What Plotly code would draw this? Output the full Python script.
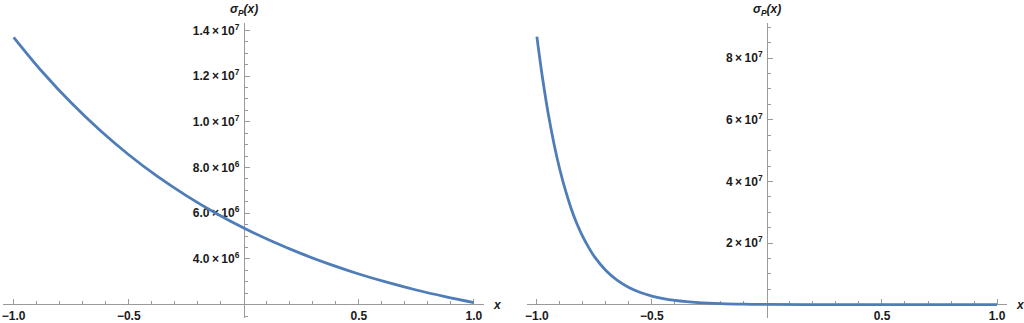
import numpy as np
import plotly.graph_objects as go

# ---- data ----
x_left = [-1.0, -0.875, -0.75, -0.625, -0.5, -0.375, -0.25, -0.125, 0.0,
          0.125, 0.25, 0.375, 0.5, 0.625, 0.75, 0.875, 1.0]
sigma_left = [1.37e7, 1.218e7, 1.083e7, 9.63e6, 8.56e6, 7.61e6, 6.77e6, 6.02e6, 5.35e6,
              4.76e6, 4.23e6, 3.76e6, 3.34e6, 2.97e6, 2.64e6, 2.35e6, 2.09e6]

x_right = [-1.0, -0.975, -0.95, -0.925, -0.9, -0.875, -0.85, -0.825, -0.8, -0.775, -0.75,
           -0.7, -0.65, -0.6, -0.55, -0.5, -0.45, -0.4, -0.35, -0.3, -0.2, -0.1, 0.0,
           0.25, 0.5, 0.75, 1.0]
sigma_right = [8.7e7, 7.33e7, 6.17e7, 5.2e7, 4.38e7, 3.69e7, 3.1e7, 2.61e7, 2.2e7, 1.86e7, 1.56e7,
               1.11e7, 7.86e6, 5.57e6, 3.95e6, 2.8e6, 1.99e6, 1.41e6, 1.0e6, 7.1e5, 3.6e5, 1.8e5, 9.0e4,
               1.6e4, 2.9e3, 5.2e2, 93]

x_tick_vals = [-1.0, -0.5, 0.5, 1.0]
x_tick_text = ["\u22121.0", "\u22120.5", "0.5", "1.0"]

left_tick_vals = [4e6, 6e6, 8e6, 1.0e7, 1.2e7, 1.4e7]
left_tick_text = ["4.0", "6.0", "8.0", "1.0", "1.2", "1.4"]
left_tick_exp = [6, 6, 6, 7, 7, 7]

right_tick_vals = [2e7, 4e7, 6e7, 8e7]
right_tick_text = ["2", "4", "6", "8"]
right_tick_exp = [7, 7, 7, 7]

# ---- styling ----
W, H = 1024, 323
LINE = "#4F7DB8"
AX = "#9a9a9a"
TXT = "#1a1a1a"
FONT = "Liberation Sans"


def sci(m, e):
    return f"<b>{m}\u2009\u00d7\u200910<sup>{e}</sup></b>"


def px2x(p):
    return p / W


def py2y(p):
    return 1 - p / H


fig = go.Figure()
fig.add_trace(go.Scatter(x=x_left, y=sigma_left, mode="lines", line=dict(color=LINE, width=2.8, shape="spline"),
                         xaxis="x", yaxis="y", showlegend=False, hoverinfo="skip"))
fig.add_trace(go.Scatter(x=x_right, y=sigma_right, mode="lines", line=dict(color=LINE, width=2.8, shape="spline"),
                         xaxis="x2", yaxis="y2", showlegend=False, hoverinfo="skip"))

ppu = 230.3
xr = 1.045
left_c, right_c = 243.0, 766.7
x_axis_py = 305.3
y_top_py, y_bot_py = 21.7, 319.0

minor_x = [round(v, 2) for v in np.arange(-1.0, 1.0001, 0.1) if abs(round(v, 2) * 2 - round(round(v, 2) * 2)) > 1e-6]

common_x = dict(showgrid=False, zeroline=False, showline=True, linecolor=AX, linewidth=1,
                ticks="inside", ticklen=5, tickcolor=AX, tickwidth=1, layer="below traces",
                tickmode="array", tickvals=x_tick_vals, ticktext=["<b>" + t + "</b>" for t in x_tick_text],
                tickfont=dict(family=FONT, size=12, color=TXT),
                minor=dict(ticks="inside", ticklen=3, tickcolor=AX, tickwidth=1,
                           tickmode="array", tickvals=minor_x, showgrid=False),
                range=[-xr, xr], anchor="free", position=py2y(x_axis_py), ticklabelstandoff=0)

fig.update_layout(
    width=W, height=H, margin=dict(l=0, r=0, t=0, b=0),
    paper_bgcolor="white", plot_bgcolor="white",
    xaxis=dict(common_x, domain=[px2x(left_c - xr * ppu), px2x(left_c + xr * ppu)]),
    xaxis2=dict(common_x, domain=[px2x(right_c - xr * ppu), px2x(right_c + xr * ppu)]),
)

l_per_px = 1e7 / (259.33 - 28.67)
l_lo = 4e6 - (y_bot_py - 259.33) * l_per_px
l_hi = 4e6 + (259.33 - y_top_py) * l_per_px
r_per_px = 6e7 / (243.33 - 56.67)
r_zero_py = 243.33 + 2e7 / r_per_px
r_lo = -(y_bot_py - r_zero_py) * r_per_px
r_hi = (r_zero_py - y_top_py) * r_per_px

common_y = dict(showgrid=False, zeroline=False, showline=True, linecolor=AX, linewidth=1,
                ticks="inside", ticklen=5, tickcolor=AX, tickwidth=1, tickmode="array", layer="below traces",
                tickfont=dict(family=FONT, size=12, color=TXT),
                anchor="free", domain=[py2y(y_bot_py), py2y(y_top_py)], ticklabelstandoff=2)

fig.update_layout(
    yaxis=dict(common_y, range=[l_lo, l_hi], position=px2x(left_c),
               tickvals=left_tick_vals,
               ticktext=[sci(m, e) for m, e in zip(left_tick_text, left_tick_exp)],
               minor=dict(ticks="inside", ticklen=3, tickcolor=AX, tickwidth=1,
                          tickmode="array", tickvals=[v * 5e5 for v in range(3, 29)], showgrid=False)),
    yaxis2=dict(common_y, range=[r_lo, r_hi], position=px2x(right_c),
                tickvals=right_tick_vals,
                ticktext=[sci(m, e) for m, e in zip(right_tick_text, right_tick_exp)],
                minor=dict(ticks="inside", ticklen=3, tickcolor=AX, tickwidth=1,
                           tickmode="array", tickvals=[v * 5e6 for v in range(1, 19)], showgrid=False)),
)

lab = "<b><i>\u03c3</i><sub><i>P</i></sub><i>(x)</i></b>"
for cx in (left_c, right_c):
    fig.add_annotation(x=px2x(cx), y=py2y(8), xref="paper", yref="paper", text=lab, showarrow=False,
                       font=dict(family=FONT, size=12, color=TXT), xanchor="center", yanchor="middle")
for lx in (497, 1020):
    fig.add_annotation(x=px2x(lx), y=py2y(306), xref="paper", yref="paper", text="<b><i>x</i></b>",
                       showarrow=False, font=dict(family=FONT, size=12, color=TXT),
                       xanchor="center", yanchor="middle")

fig.write_html("out.html", config={"displayModeBar": False},
               post_script="document.body.style.margin='0';document.body.style.padding='0';")
